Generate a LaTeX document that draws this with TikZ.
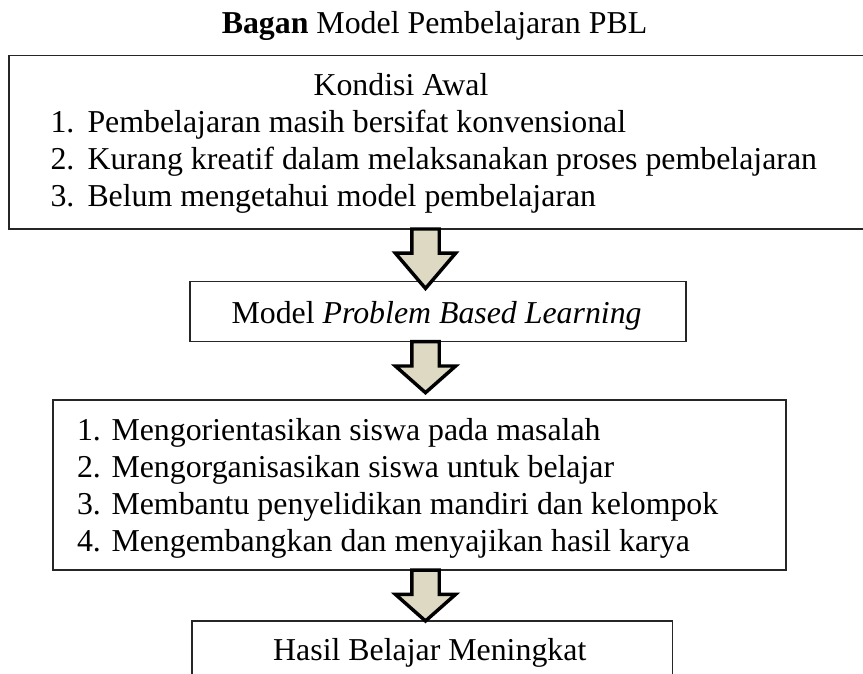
\documentclass[tikz,border=0pt]{standalone}
\usepackage{fontspec}
\setmainfont{Liberation Serif}
\usetikzlibrary{shapes.arrows}
\definecolor{arrowfill}{HTML}{DDD9C3}

\begin{document}
\begin{tikzpicture}[x=0.3768pt,y=-0.3768pt,
	box/.style={draw=black!85,line width=0.45pt,inner sep=0pt,outer sep=0pt,anchor=north west},
	txt/.style={inner sep=0pt,anchor=base west,font=\fontsize{12}{14}\selectfont},
	blockarrow/.style={single arrow,draw=black,fill=arrowfill,line width=1.3pt,line join=miter,
		inner xsep=0pt,inner ysep=4.52pt,outer sep=0pt,minimum width=21.5pt,
		single arrow head extend=6.2pt,anchor=tail,rotate=-90}]
	\useasboundingbox (0,0) rectangle (863,673);
	\clip (0,0) rectangle (863,673);
	\node[txt,anchor=base] (judul) at (434.5,33) {\textbf{Bagan} Model Pembelajaran PBL};
	% kotak-kotak
	\node[box,minimum width=328.2pt,minimum height=65.37pt] (kondisi) at (9,55.5) {};
	\node[box,minimum width=186.9pt,minimum height=22.61pt] (model) at (190,281.7) {};
	\node[box,minimum width=276.2pt,minimum height=64.06pt] (langkah) at (53,400) {};
	\node[box,minimum width=180.9pt,minimum height=29.8pt] (hasil) at (192,621) {};
	% isi
	\node[txt] (k0) at (313,95.3) {Kondisi Awal};
	\node[txt] (k1) at (50,132.3) {\makebox[13.94pt][l]{1.}Pembelajaran masih bersifat konvensional};
	\node[txt] (k2) at (50,169.3) {\makebox[13.94pt][l]{2.}Kurang kreatif dalam melaksanakan proses pembelajaran};
	\node[txt] (k3) at (50,206.3) {\makebox[13.94pt][l]{3.}Belum mengetahui model pembelajaran};
	\node[txt] (m0) at (231,323.3) {Model \textit{Problem Based Learning}};
	\node[txt] (l1) at (76.5,440) {1. Mengorientasikan siswa pada masalah};
	\node[txt] (l2) at (76.5,477) {2. Mengorganisasikan siswa untuk belajar};
	\node[txt] (l3) at (76.5,514) {3. Membantu penyelidikan mandiri dan kelompok};
	\node[txt] (l4) at (76.5,551) {4. Mengembangkan dan menyajikan hasil karya};
	\node[txt] (h0) at (272.7,660) {Hasil Belajar Meningkat};
	% panah
	\coordinate (sumbu) at (425.5,0);
	\node[blockarrow,minimum height=22.4pt,single arrow tip angle=81] (p1) at (sumbu |- kondisi.south) {};
	\node[blockarrow,minimum height=19.2pt,single arrow tip angle=97] (p2) at (sumbu |- model.south) {};
	\node[blockarrow,minimum height=19.2pt,single arrow tip angle=97] (p3) at (sumbu |- langkah.south) {};
\end{tikzpicture}
\end{document}
